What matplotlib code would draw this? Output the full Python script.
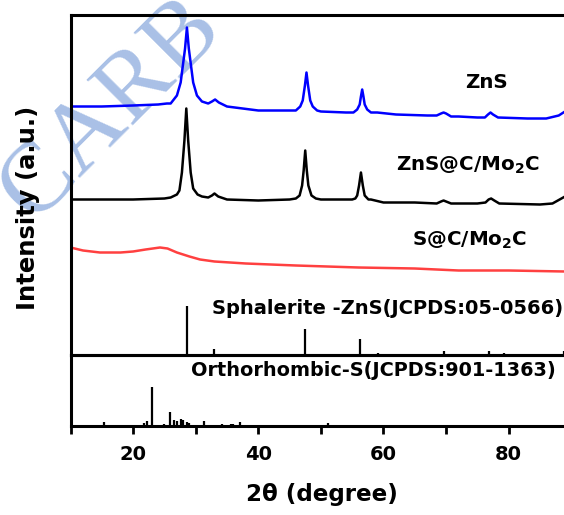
import matplotlib
matplotlib.use("Agg")
import matplotlib.pyplot as plt

plt.rcParams['font.family'] = ['DejaVu Sans']
plt.rcParams['font.weight'] = 'bold'

# -------------------------
# DATA (a.u. with stacking offsets)
# -------------------------
zns_x = [10, 15, 20, 24, 25.4, 26, 27.0, 27.6, 28.3, 28.6, 28.9, 29.6, 30.2, 31, 32, 32.6,
         33.1, 33.7, 35, 40, 44, 46.0, 46.7, 47.1, 47.45, 47.7, 47.95, 48.3, 48.7, 49.4,
         50, 54, 55.2, 55.8, 56.2, 56.4, 56.6, 56.8, 57.0, 57.4, 58, 59, 62, 67, 68.5,
         69.2, 69.6, 70.0, 70.8, 72, 75, 76.2, 76.7, 77.1, 77.5, 78.3, 83, 86, 88, 89]
zns_y = [248, 248, 249, 250, 251, 251, 259, 272, 306, 327, 306, 272, 259, 253, 251, 253,
         255, 252, 248, 244, 244, 244, 248, 254, 269, 282, 269, 254, 248, 244,
         243, 242, 242, 245, 250, 258, 265, 258, 250, 245, 242, 242, 240, 239, 239,
         241, 242, 241, 238, 238, 237, 237, 240, 242, 240, 237, 236, 236, 239, 243]

znsc_x = [10, 20, 25, 26, 27.0, 27.4, 27.8, 28.2, 28.5, 28.8, 29.2, 29.6, 30.3, 31, 32,
          32.6, 33.0, 33.6, 35, 40, 45, 46.0, 46.6, 47.0, 47.25, 47.5, 47.75, 48.0, 48.5,
          49.2, 50, 55, 55.5, 55.8, 56.1, 56.4, 56.7, 57.0, 57.6, 58, 60, 65, 68.5, 69.2,
          69.6, 70.0, 70.8, 75, 76.3, 76.8, 77.2, 77.7, 78.5, 85, 87, 89]
znsc_y = [155, 155, 156, 157, 160, 164, 182, 214, 246, 214, 182, 166, 160, 158, 157,
          159, 161, 158, 155, 154, 155, 156, 159, 169, 184, 204, 184, 169, 159,
          156, 155, 155, 156, 159, 169, 182, 169, 159, 155, 155, 152, 152, 151, 153,
          154, 153, 151, 151, 152, 155, 156, 154, 151, 150, 151, 158]

sc_x = [10, 12, 14.7, 18, 20, 22, 24.3, 25.5, 27, 29, 30.7, 33, 38, 46, 56, 65, 72, 80, 89]
sc_y = [107, 104, 102, 102, 103, 105, 107, 106, 102, 98, 95, 93, 91, 89, 87, 86, 84, 84, 83]

sph_x = [28.6, 33.0, 47.5, 56.2, 59.2, 69.6, 76.8, 79.2, 88.8]
sph_h = [49, 6, 26, 16, 2, 4, 4, 2, 4]

ortho_x = [11.5, 15.4, 21.8, 22.3, 23.1, 25.0, 25.9, 26.6, 27.0, 27.6, 27.9, 28.6, 28.9,
           31.4, 34.2, 35.6, 36.0, 37.1, 40.3, 42.7, 47.8, 51.2, 52.0, 53.9]
ortho_h = [1.5, 4, 3, 5, 39, 2, 14, 6, 5, 7, 6, 4, 3,
           5, 2, 2, 2, 4, 1.5, 1.5, 1.5, 3, 1.5, 1.5]

W, H = 564, 515
fig = plt.figure(figsize=(W / 100, H / 100), dpi=100)

x0 = 70.5 / W
w = 494.5 / W
ax = fig.add_axes([x0, 1 - 354.5 / H, w, (354.5 - 15) / H])
ax2 = fig.add_axes([x0, 1 - 426 / H, w, (426 - 354.5) / H])

# watermark behind everything
fig.text(32 / W, 1 - 222 / H, "CARB", fontsize=72, family='Liberation Serif',
         weight='normal', color='#a9c0e6', rotation=45, rotation_mode='anchor',
         zorder=-5, ha='left', va='baseline')

for a in (ax, ax2):
    a.set_facecolor('none')
    a.set_xlim(10, 89)
    a.spines['right'].set_visible(False)
    for s in ('left', 'top', 'bottom'):
        a.spines[s].set_linewidth(2.2)
    a.set_yticks([])

ax.set_ylim(0, 339.5)
ax2.set_ylim(0, 71.5)

ax.plot(zns_x, zns_y, color='#0000ff', lw=1.8)
ax.plot(znsc_x, znsc_y, color='black', lw=1.8)
ax.plot(sc_x, sc_y, color='#ff4040', lw=1.8)
ax.vlines(sph_x, 0, sph_h, color='black', lw=1.6)
ax2.vlines(ortho_x, 0, ortho_h, color='black', lw=1.6)

ax.set_xticks([])
ax2.set_xticks([20, 40, 60, 80])
ax2.set_xticks([10, 30, 50, 70], minor=True)
ax2.tick_params(axis='x', which='both', direction='out', length=6, width=2, labelsize=14, pad=8)

ax.text(76.5, 354.5 - 82, "ZnS", fontsize=14.3, ha='center', va='center')
ax.text(73.5, 354.5 - 165, "ZnS@C/Mo$_\\mathbf{2}$C", fontsize=14.3, ha='center', va='center')
ax.text(73.8, 354.5 - 240, "S@C/Mo$_\\mathbf{2}$C", fontsize=14.3, ha='center', va='center')
ax.text(32.6, 354.5 - 308, "Sphalerite -ZnS(JCPDS:05-0566)", fontsize=14, ha='left', va='center')
ax2.text(29.2, 426 - 370, "Orthorhombic-S(JCPDS:901-1363)", fontsize=13.9, ha='left', va='center')

fig.text(322 / W, 1 - 495 / H, "2θ (degree)", fontsize=16.6, ha='center', va='center')
fig.text(28 / W, 1 - 208 / H, "Intensity (a.u.)", fontsize=17.5, ha='center', va='center',
         rotation=90)

fig.savefig("out.png", dpi=100)
